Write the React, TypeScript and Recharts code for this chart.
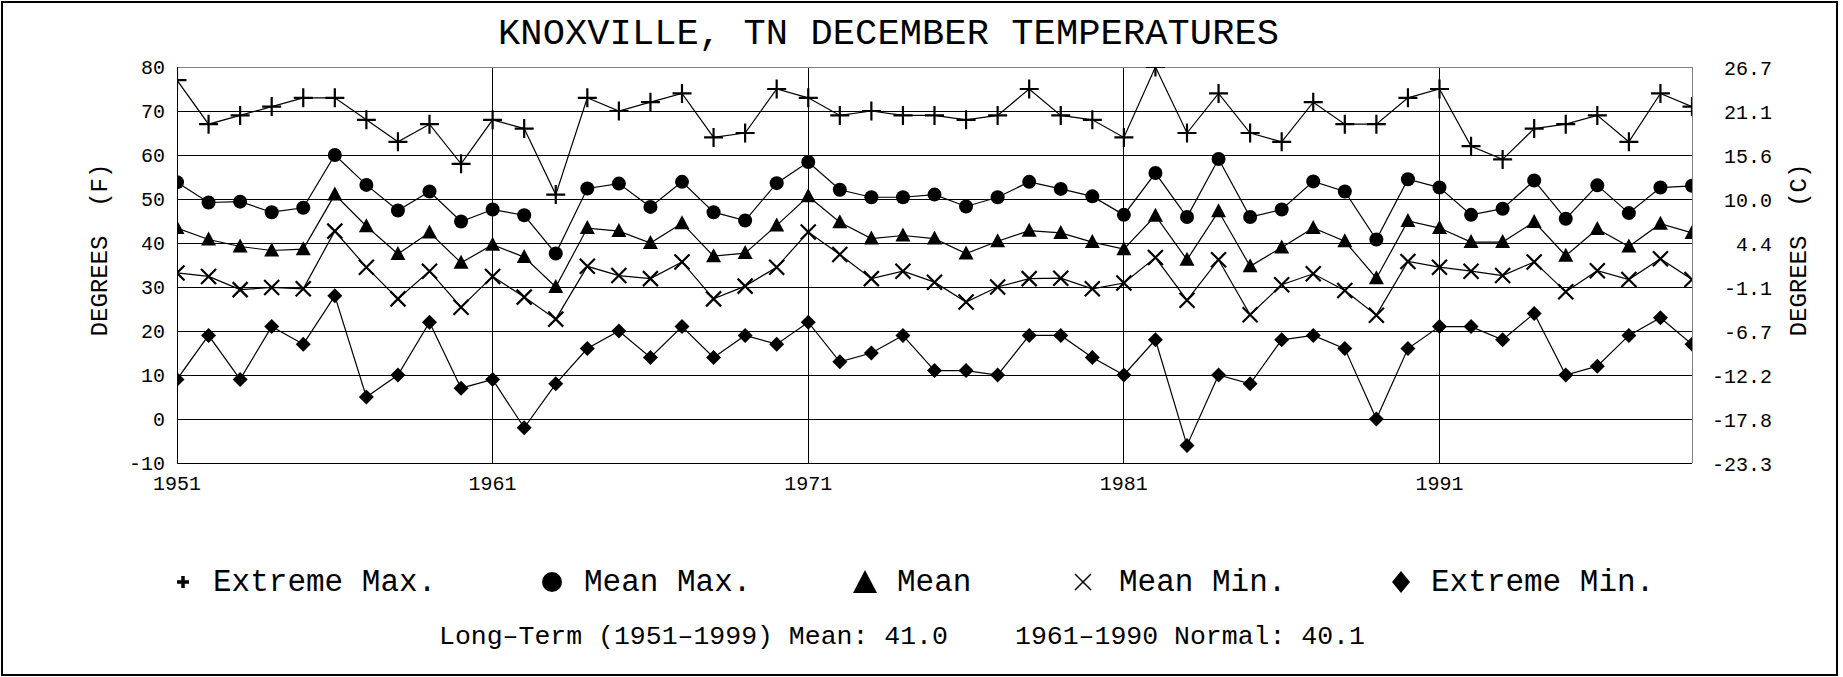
import React from 'react';
import { LineChart, Line, XAxis, YAxis, CartesianGrid, Legend, ReferenceLine } from 'recharts';

// December temperatures, Knoxville TN, 1951-1999 (degrees F)
const years = Array.from({ length: 49 }, (_, i) => 1951 + i);

const extremeMax = [
  77, 67, 69, 71, 73, 73, 68, 63, 67, 58,
  68, 66, 51, 73, 70, 72, 74, 64, 65, 75,
  73, 69, 70, 69, 69, 68, 69, 75, 69, 68,
  64, 80, 65, 74, 65, 63, 72, 67, 67, 73,
  75, 62, 59, 66, 67, 69, 63, 74, 71,
];

const meanMax = [
  53.8, 49.2, 49.4, 47.0, 48.0, 60.0, 53.2, 47.4, 51.7, 44.9,
  47.6, 46.3, 37.6, 52.4, 53.5, 48.2, 53.9, 47.0, 45.1, 53.6,
  58.4, 52.1, 50.4, 50.4, 51.0, 48.3, 50.4, 53.9, 52.3, 50.6,
  46.4, 55.9, 45.9, 59.1, 45.9, 47.6, 54.0, 51.7, 40.8, 54.5,
  52.6, 46.4, 47.8, 54.2, 45.5, 53.1, 46.8, 52.6, 53.0,
];

const mean = [
  43.4, 40.8, 39.2, 38.3, 38.6, 51.0, 43.8, 37.5, 42.4, 35.5,
  39.6, 36.8, 30.0, 43.4, 42.7, 40.0, 44.5, 37.0, 37.7, 44.0,
  50.6, 44.7, 41.0, 41.7, 41.0, 37.6, 40.4, 42.8, 42.3, 40.2,
  38.6, 46.2, 36.2, 47.2, 34.7, 39.0, 43.4, 40.4, 32.0, 45.0,
  43.4, 40.2, 40.2, 44.8, 37.1, 43.2, 39.2, 44.4, 42.3,
];

const meanMin = [
  33.2, 32.4, 29.4, 29.9, 29.6, 42.7, 34.5, 27.3, 33.6, 25.4,
  32.4, 27.7, 22.7, 34.7, 32.6, 31.9, 35.7, 27.3, 30.2, 34.5,
  42.5, 37.4, 31.9, 33.6, 31.1, 26.6, 30.0, 31.9, 32.0, 29.6,
  30.9, 36.7, 27.0, 36.2, 23.7, 30.5, 33.0, 29.2, 23.6, 35.8,
  34.5, 33.6, 32.6, 35.7, 28.9, 33.7, 31.7, 36.4, 31.7,
];

const extremeMin = [
  9, 19, 9, 21, 17, 28, 5, 10, 22, 7,
  9, -2, 8, 16, 20, 14, 21, 14, 19, 17,
  22, 13, 15, 19, 11, 11, 10, 19, 19, 14,
  10, 18, -6, 10, 8, 18, 19, 16, 0, 16,
  21, 21, 18, 24, 10, 12, 19, 23, 17,
];

const yTicks = [-10, 0, 10, 20, 30, 40, 50, 60, 70, 80];
const gridY = [0, 10, 20, 30, 40, 50, 60, 70];
const xTicks = [1951, 1961, 1971, 1981, 1991];

const title = 'KNOXVILLE, TN DECEMBER TEMPERATURES';
const footLeft = 'Long\u2013Term (1951\u20131999) Mean: 41.0';
const footRight = '1961\u20131990 Normal: 40.1';

const rows = years.map((year, i) => ({
  year,
  extremeMax: extremeMax[i],
  meanMax: meanMax[i],
  mean: mean[i],
  meanMin: meanMin[i],
  extremeMin: extremeMin[i],
}));

const FONT = '"Liberation Mono", "DejaVu Sans Mono", monospace';
const W = 1843;
const H = 677;

const toC = (f: number) => (((f - 32) * 5) / 9).toFixed(1);

type Shape = 'plus' | 'circle' | 'triangle' | 'cross' | 'diamond';

// plot markers
function Marker({ shape, cx, cy }: { shape: Shape; cx: number; cy: number }) {
  if (cx == null || cy == null) return null;
  switch (shape) {
    case 'plus': {
      const a = 9.5;
      return (
        <path
          d={`M${cx - a},${cy}H${cx + a}M${cx},${cy - a}V${cy + a}`}
          stroke="#000"
          strokeWidth={2.2}
          fill="none"
        />
      );
    }
    case 'circle':
      return <circle cx={cx} cy={cy} r={7} fill="#000" />;
    case 'triangle':
      return (
        <polygon
          points={`${cx},${cy - 8} ${cx - 7.5},${cy + 6} ${cx + 7.5},${cy + 6}`}
          fill="#000"
        />
      );
    case 'cross': {
      const a = 7.5;
      return (
        <path
          d={`M${cx - a},${cy - a}L${cx + a},${cy + a}M${cx + a},${cy - a}L${cx - a},${cy + a}`}
          stroke="#000"
          strokeWidth={2.2}
          fill="none"
        />
      );
    }
    default:
      return (
        <polygon
          points={`${cx},${cy - 7.5} ${cx + 7.5},${cy} ${cx},${cy + 7.5} ${cx - 7.5},${cy}`}
          fill="#000"
        />
      );
  }
}

const series: { key: string; name: string; shape: Shape }[] = [
  { key: 'extremeMax', name: 'Extreme Max.', shape: 'plus' },
  { key: 'meanMax', name: 'Mean Max.', shape: 'circle' },
  { key: 'mean', name: 'Mean', shape: 'triangle' },
  { key: 'meanMin', name: 'Mean Min.', shape: 'cross' },
  { key: 'extremeMin', name: 'Extreme Min.', shape: 'diamond' },
];

// legend layout: marker centre x, text start x
const legendPos: Record<string, { mx: number; tx: number }> = {
  extremeMax: { mx: 183, tx: 213 },
  meanMax: { mx: 552, tx: 584 },
  mean: { mx: 865, tx: 897 },
  meanMin: { mx: 1083, tx: 1119 },
  extremeMin: { mx: 1401, tx: 1431 },
};

const legendTop = 550;

function LegendContent() {
  return (
    <svg width={W} height={60} style={{ display: 'block' }}>
      {series.map((s) => {
        const p = legendPos[s.key];
        let marker;
        if (s.shape === 'plus') {
          marker = (
            <path
              d={`M${p.mx - 6},32H${p.mx + 6}M${p.mx},26V38`}
              stroke="#000"
              strokeWidth={3.5}
            />
          );
        } else if (s.shape === 'circle') {
          marker = <circle cx={p.mx} cy={32} r={10} fill="#000" />;
        } else if (s.shape === 'triangle') {
          marker = <polygon points={`${p.mx},20 ${p.mx - 12},43 ${p.mx + 12},43`} fill="#000" />;
        } else if (s.shape === 'cross') {
          marker = (
            <path
              d={`M${p.mx - 8},24L${p.mx + 8},40M${p.mx + 8},24L${p.mx - 8},40`}
              stroke="#000"
              strokeWidth={1.5}
            />
          );
        } else {
          marker = <polygon points={`${p.mx},21 ${p.mx + 9},32 ${p.mx},43 ${p.mx - 9},32`} fill="#000" />;
        }
        return (
          <g key={s.key}>
            {marker}
            <text x={p.tx} y={41} fontFamily={FONT} fontSize={31} fill="#000">
              {s.name}
            </text>
          </g>
        );
      })}
    </svg>
  );
}

function RightTick(props: any) {
  const { x, y, payload } = props;
  return (
    <text x={x + 72} y={y + 8} textAnchor="end" fontFamily={FONT} fontSize={20} fill="#000">
      {toC(payload.value)}
    </text>
  );
}

export default function App() {
  return (
    <div style={{ position: 'absolute', left: 0, top: 0, width: W, height: H, background: '#fff' }}>
      <LineChart
        width={W}
        height={H}
        data={rows}
        margin={{ top: 67, right: 61, bottom: 174, left: 117 }}
      >
        <CartesianGrid
          stroke="#000"
          strokeWidth={1}
          shapeRendering="crispEdges"
          horizontalValues={gridY}
          verticalValues={xTicks}
          yAxisId="left"
        />
        <XAxis
          dataKey="year"
          type="number"
          domain={[1951, 1999]}
          ticks={xTicks}
          interval={0}
          allowDataOverflow
          height={40}
          tickLine={false}
          tickMargin={7}
          axisLine={{ stroke: '#000', shapeRendering: 'crispEdges' }}
          tick={{ fill: '#000', fontSize: 20, fontFamily: FONT }}
        />
        <YAxis
          yAxisId="left"
          type="number"
          domain={[-10, 80]}
          ticks={yTicks}
          interval={0}
          allowDataOverflow
          width={60}
          tickLine={false}
          tickMargin={6}
          axisLine={{ stroke: '#000', shapeRendering: 'crispEdges' }}
          tick={{ fill: '#000', fontSize: 20, fontFamily: FONT }}
        />
        <YAxis
          yAxisId="right"
          orientation="right"
          type="number"
          domain={[-10, 80]}
          ticks={yTicks}
          interval={0}
          allowDataOverflow
          width={90}
          tickLine={false}
          axisLine={{ stroke: '#808080', shapeRendering: 'crispEdges' }}
          tick={<RightTick />}
        />
        <ReferenceLine yAxisId="left" y={80} stroke="#808080" shapeRendering="crispEdges" />
        <Legend
          verticalAlign="middle"
          align="center"
          content={<LegendContent />}
          wrapperStyle={{ position: 'absolute', left: 0, top: legendTop, width: W, height: 60 }}
        />
        {series.map((s) => (
          <Line
            key={s.key}
            yAxisId="left"
            type="linear"
            dataKey={s.key}
            name={s.name}
            stroke="#000"
            strokeWidth={1.2}
            isAnimationActive={false}
            activeDot={false}
            dot={(p: any) => <Marker key={`${s.key}-${p.index}`} shape={s.shape} cx={p.cx} cy={p.cy} />}
          />
        ))}
      </LineChart>
      <svg
        width={W}
        height={H}
        style={{ position: 'absolute', left: 0, top: 0, pointerEvents: 'none' }}
      >
        <rect x={2} y={2} width={1835} height={673} fill="none" stroke="#000" strokeWidth={2} />
        <text x={498} y={44} fontFamily={FONT} fontSize={37} textLength={781} fill="#000">
          {title}
        </text>
        <text
          transform="translate(107,250) rotate(-90)"
          textAnchor="middle"
          fontFamily={FONT}
          fontSize={24}
          fill="#000"
          style={{ whiteSpace: 'pre' }}
        >
          DEGREES  (F)
        </text>
        <text
          transform="translate(1806,250) rotate(-90)"
          textAnchor="middle"
          fontFamily={FONT}
          fontSize={24}
          fill="#000"
          style={{ whiteSpace: 'pre' }}
        >
          DEGREES  (C)
        </text>
        <text x={439} y={644} fontFamily={FONT} fontSize={26.5} fill="#000">
          {footLeft}
        </text>
        <text x={1015} y={644} fontFamily={FONT} fontSize={26.5} fill="#000">
          {footRight}
        </text>
      </svg>
    </div>
  );
}
